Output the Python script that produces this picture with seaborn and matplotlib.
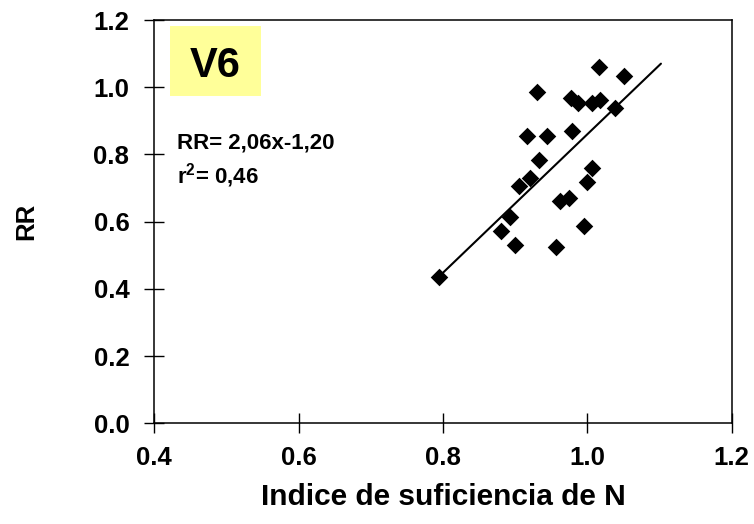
import matplotlib
matplotlib.use("Agg")
import matplotlib.pyplot as plt
from matplotlib.patches import Rectangle
import numpy as np
import pandas as pd
import seaborn as sns

# Data
isn = [0.795, 0.880, 0.900, 0.893, 0.906, 0.921, 0.933, 0.917, 0.944, 0.930,
       0.957, 0.962, 0.974, 0.979, 0.978, 0.987, 0.996, 0.999, 1.006, 1.006,
       1.018, 1.016, 1.039, 1.051]
rr = [0.436, 0.572, 0.531, 0.615, 0.706, 0.729, 0.784, 0.855, 0.855, 0.987,
      0.524, 0.660, 0.671, 0.870, 0.967, 0.952, 0.587, 0.719, 0.759, 0.952,
      0.962, 1.061, 0.938, 1.032]
slope = 2.06
intercept = -1.20
fit_range = [0.795, 1.102]
x_ticks = [0.4, 0.6, 0.8, 1.0, 1.2]
y_ticks = [0.0, 0.2, 0.4, 0.6, 0.8, 1.0, 1.2]
panel_label = "V6"
eq_text = "RR= 2,06x-1,20"
r2_text = "r$^{\\mathbf{2}}$= 0,46"

sns.set_theme(style="white")
plt.rcParams['font.family'] = ['Liberation Sans', 'DejaVu Sans']
plt.rcParams['font.weight'] = 'bold'
plt.rcParams['mathtext.fontset'] = 'custom'
plt.rcParams['mathtext.bf'] = 'Liberation Sans:bold'
plt.rcParams['mathtext.rm'] = 'Liberation Sans:bold'

fig = plt.figure(figsize=(7.54, 5.24), dpi=100)
ax = fig.add_axes([0.2046, 0.1922, 0.9704 - 0.2046, 0.9618 - 0.1922])

df = pd.DataFrame({"x": isn, "y": rr})
sns.scatterplot(data=df, x="x", y="y", marker="D", s=80, color="black",
                edgecolor="black", linewidth=0, ax=ax, zorder=3)

fit = pd.DataFrame({"x": fit_range})
fit["y"] = slope * fit["x"] + intercept
sns.lineplot(data=fit, x="x", y="y", color="black", linewidth=1.5, ax=ax, zorder=2)

ax.set_xlim(x_ticks[0], x_ticks[-1])
ax.set_ylim(y_ticks[0], y_ticks[-1])
ax.set_xticks(x_ticks)
ax.set_yticks(y_ticks)
ax.set_xticklabels([f"{v:.1f}" for v in x_ticks])
ax.set_yticklabels([f"{v:.1f}" for v in y_ticks])
ax.tick_params(axis='both', direction='inout', length=14, width=1.0,
               color='black', labelsize=18.5, labelcolor='black',
               bottom=True, left=True, top=False, right=False)
ax.tick_params(axis='y', pad=11)
ax.tick_params(axis='x', pad=9)
for lab in ax.get_xticklabels() + ax.get_yticklabels():
    lab.set_fontweight('bold')

for sp in ax.spines.values():
    sp.set_visible(True)
    sp.set_color('black')
    sp.set_linewidth(1.1)

ax.set_xlabel("Indice de suficiencia de N", fontsize=21.5, fontweight='bold',
              color='black', labelpad=10)
ax.set_ylabel("RR", fontsize=18.5, fontweight='bold', color='black', labelpad=40)

# panel label box
ax.add_patch(Rectangle((0.0272, 0.8116), 0.1576, 0.1734, transform=ax.transAxes,
                       facecolor='#FFFF99', edgecolor='none', zorder=1))
ax.text(0.106, 0.859, panel_label, transform=ax.transAxes, ha='center',
        va='baseline', fontsize=30, fontweight='bold', color='black', zorder=4)

ax.text(0.4315, 0.819, eq_text, ha='left', va='baseline', fontsize=16,
        fontweight='bold', color='black')
ax.text(0.4315, 0.715, r2_text, ha='left', va='baseline', fontsize=16,
        fontweight='bold', color='black')

fig.savefig("out.png", dpi=100, facecolor='white')
